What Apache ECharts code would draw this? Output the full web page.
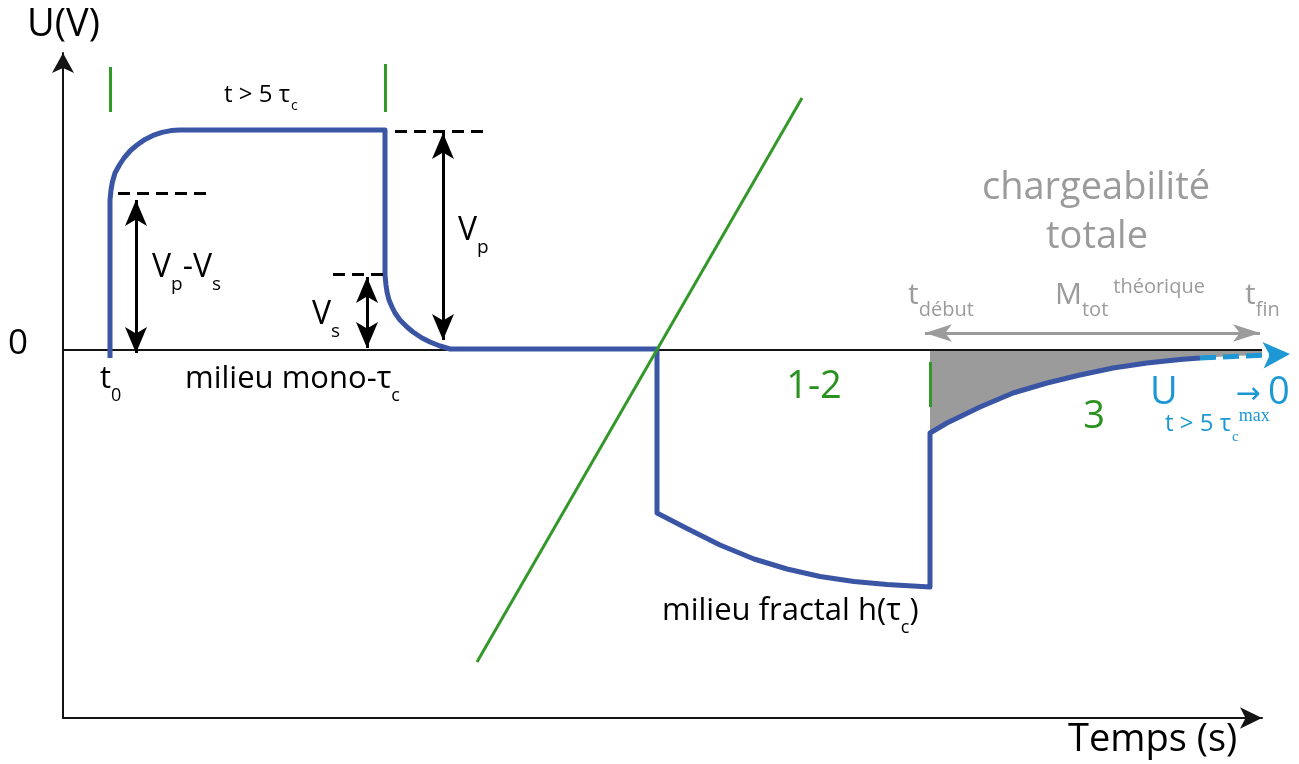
<!DOCTYPE html>
<html><head><meta charset="utf-8">
<script src="https://cdn.jsdelivr.net/npm/echarts@6/dist/echarts.min.js"></script>
<style>html,body{margin:0;padding:0;background:#fff;}#chart{width:1299px;height:764px;}</style>
</head><body><div id="chart"></div>
<script>
// ---- Axis ranges (arbitrary time / voltage units) ----
const timeRange = [0, 1199];
const voltRange = [-368, 297];

// ---- Signal: mono-tau_c medium (injection at t0, rise, plateau, cut-off, decay) ----
const monoResponse = [[47,-8],[47,150],[48,160],[49.4,168],[52,177],[56.4,185],[61,192],[67.5,199.5],[74,205],[82,210.6],[90,214.6],[99,217.6],[108,219.4],[117,220],
  [322,220],[322,75],[323,65],[324,58],[326,50],[329,43],[332,37],[337,30],[344,23],[350,18],[359,12],[367,8],[377,4],[387,1],[594,1]];
// ---- Signal: fractal medium h(tau_c) ----
const fractalResponse = [[594,-163],[624,-178.5],[657,-195],[691,-209],[724,-219],[757,-226.5],[791,-231.5],[824,-234.5],[867,-237],
  [867,-83],[884,-73],[917,-57],[950,-43],[984,-33],[1017,-25],[1050,-18],[1084,-13],[1117,-9.5],[1137,-8]];
// ---- Total chargeability area ----
const chargeArea = [[867,-83],[884,-73],[917,-57],[950,-43],[984,-33],[1017,-25],[1050,-18],[1084,-13],[1117,-9.5],[1137,-8],[1170,-6],[1199,-5]];
// ---- Asymptote U -> 0 ----
const tailArrow = [[1137,-8],[1227,-4]];
// ---- Zero level ----
const zeroLine = [[0,0],[1199,0]];
// ---- Green markers ----
const diagonal = [[414,-312],[739,252]];
const phaseTicks = [[[47,283],[47,238]], [[322,286],[322,238]], [[867,-12],[867,-57]]];
// ---- Reference levels (dashed) ----
const refLevels = [[[55,157],[145,157]], [[332,219],[420,219]], [[270,76],[320,76]]];
// ---- Amplitude arrows (Vp-Vs, Vs, Vp) ----
const ampArrows = [[[73,150],[73,-3]], [[304,73],[304,2]], [[380,217],[380,10]]];
// ---- Integration window arrow ----
const windowArrow = [[862,17],[1197,17]];

// ---- Text annotations: [t, U, rich text, align] ----
const annotations = [
  [0.5, 325, '{title|U(V)}', 'center'],
  [-45, 5.6, '{zero|0}', 'center'],
  [37, -29, '{txt|t}{sub|0}', 'left'],
  [122, -29, '{txt|milieu mono-τ}{sub|c}', 'left'],
  [161, 255.3, '{mid|t > 5 τ}{midSub|c}', 'left'],
  [89, 82.4, '{V|V}{Vsub|p}{V|-V}{Vsub|s}', 'left'],
  [249, 35.4, '{V|V}{Vsub|s}', 'left'],
  [395, 119.4, '{V|V}{Vsub|p}', 'left'],
  [751, -37, '{green|1-2}', 'center'],
  [1031, -67, '{green|3}', 'center'],
  [599, -261, '{txt|milieu fractal h(τ}{sub|c}{txt|)}', 'left'],
  [1033, 162, '{grayBig|chargeabilité}', 'center'],
  [1034, 113, '{grayBig|totale}', 'center'],
  [845, 54.6, '{gray|t}{graySub|début}', 'left'],
  [992, 54.6, '{gray|M}{graySub|tot}{graySup|théorique}', 'left'],
  [1182, 54.6, '{gray|t}{graySub|fin}', 'left'],
  [1087, -43, '{blueBig|U}', 'left'],
  [1185, -45, '{blueArrow|→}', 'center'],
  [1205, -43, '{blueBig|0}', 'left'],
  [1102, -73.7, '{blueMid|t > 5 τ}{blueSub|c}{blueSup|max}', 'left'],
  [1005, -390, '{title|Temps (s)}', 'left']
];

const BLUE = '#3b55a5', GREEN = '#33982a', GREEN_TEXT = '#2b9221', GRAY = '#9b9b9b', LIGHT = '#1d98d4', INK = '#000000';
const SANS = '"Open Sans", "Noto Sans", sans-serif';
const SERIF = '"Liberation Serif", serif';
const W = 500;
const rich = {
  title: {fontSize: 38, color: INK, fontFamily: SANS, fontWeight: W},
  zero: {fontSize: 35, color: INK, fontFamily: SANS, fontWeight: W},
  txt: {fontSize: 31, color: INK, fontFamily: SANS, fontWeight: W},
  sub: {fontSize: 18, color: INK, fontFamily: SANS, fontWeight: W, padding: [34, 0, 0, 0]},
  mid: {fontSize: 24, color: INK, fontFamily: SANS, fontWeight: W},
  midSub: {fontSize: 14, color: INK, fontFamily: SANS, fontWeight: W, padding: [22, 0, 0, 1]},
  V: {fontSize: 32, color: INK, fontFamily: SANS, fontWeight: W},
  Vsub: {fontSize: 19, color: INK, fontFamily: SANS, fontWeight: W, padding: [34, 0, 0, 0]},
  green: {fontSize: 38, color: GREEN_TEXT, fontFamily: SANS, fontWeight: W},
  grayBig: {fontSize: 38, color: GRAY, fontFamily: SANS, fontWeight: W},
  gray: {fontSize: 30, color: GRAY, fontFamily: SANS, fontWeight: W},
  graySub: {fontSize: 20, color: GRAY, fontFamily: SANS, fontWeight: W, padding: [30, 0, 0, 0]},
  graySup: {fontSize: 20, color: GRAY, fontFamily: SANS, fontWeight: W, padding: [0, 0, 16, 5]},
  blueBig: {fontSize: 38, color: LIGHT, fontFamily: SANS, fontWeight: W},
  blueArrow: {fontSize: 30, color: LIGHT, fontFamily: '"DejaVu Sans", sans-serif'},
  blueMid: {fontSize: 24, color: LIGHT, fontFamily: SANS, fontWeight: W},
  blueSub: {fontSize: 15, color: LIGHT, fontFamily: SERIF, padding: [26, 0, 0, 1]},
  blueSup: {fontSize: 18, color: LIGHT, fontFamily: SERIF, padding: [0, 0, 14, 0]}
};

const chart = echarts.init(document.getElementById('chart'), null, {renderer: 'canvas'});
const hiddenAxisParts = {axisTick: {show: false}, axisLabel: {show: false}, splitLine: {show: false}};
chart.setOption({
  animation: false,
  backgroundColor: '#ffffff',
  grid: {left: 63, right: 37, top: 53, bottom: 46, containLabel: false, outerBoundsMode: 'none'},
  xAxis: Object.assign({
    type: 'value', min: timeRange[0], max: timeRange[1], position: 'bottom',
    axisLine: {show: true, onZero: false, symbol: ['none', 'arrow'], symbolSize: [16, 22], lineStyle: {color: '#141414', width: 2}}
  }, hiddenAxisParts),
  yAxis: Object.assign({
    type: 'value', min: voltRange[0], max: voltRange[1], position: 'left',
    axisLine: {show: true, onZero: false, symbol: ['none', 'arrow'], symbolSize: [16.5, 20], lineStyle: {color: '#141414', width: 2}}
  }, hiddenAxisParts),
  series: [
    {type: 'line', data: chargeArea, showSymbol: false, clip: false, silent: true, z: 1,
      lineStyle: {width: 0}, areaStyle: {color: GRAY, opacity: 1}},
    {type: 'line', data: zeroLine, showSymbol: false, clip: false, silent: true, z: 2,
      lineStyle: {color: '#141414', width: 2}},
    {type: 'line', data: monoResponse.concat(fractalResponse), showSymbol: false, clip: false, silent: true, z: 3,
      lineStyle: {color: BLUE, width: 5, join: 'round'}},
    {type: 'lines', coordinateSystem: 'cartesian2d', clip: false, silent: true, z: 4,
      data: [{coords: diagonal}].concat(phaseTicks.map(c => ({coords: c}))),
      lineStyle: {color: GREEN, width: 3, opacity: 1}},
    {type: 'lines', coordinateSystem: 'cartesian2d', clip: false, silent: true, z: 4,
      data: refLevels.map(c => ({coords: c})),
      lineStyle: {color: '#000', width: 3, type: [12, 7], opacity: 1}},
    {type: 'lines', coordinateSystem: 'cartesian2d', clip: false, silent: true, z: 5,
      data: ampArrows.map(c => ({coords: c})),
      symbol: ['arrow', 'arrow'], symbolSize: [[16.5, 26], [16.5, 26]],
      lineStyle: {color: '#000', width: 3, opacity: 1}},
    {type: 'lines', coordinateSystem: 'cartesian2d', clip: false, silent: true, z: 5,
      data: [{coords: windowArrow}],
      symbol: ['arrow', 'arrow'], symbolSize: [[13, 27], [13, 27]],
      lineStyle: {color: GRAY, width: 3, opacity: 1}},
    {type: 'lines', coordinateSystem: 'cartesian2d', clip: false, silent: true, z: 5,
      data: [{coords: tailArrow}],
      symbol: ['none', 'arrow'], symbolSize: [[20, 27], [20, 27]],
      lineStyle: {color: LIGHT, width: 5, type: [16, 7], opacity: 1}},
    {type: 'scatter', symbolSize: 0, clip: false, silent: true, z: 10,
      data: annotations.map(a => ({
        value: [a[0], a[1]],
        label: {show: true, position: [0, 0], formatter: a[2], align: a[3], verticalAlign: 'middle',
          textBorderWidth: 0, opacity: 1, rich: rich}
      }))}
  ]
});
</script></body></html>
